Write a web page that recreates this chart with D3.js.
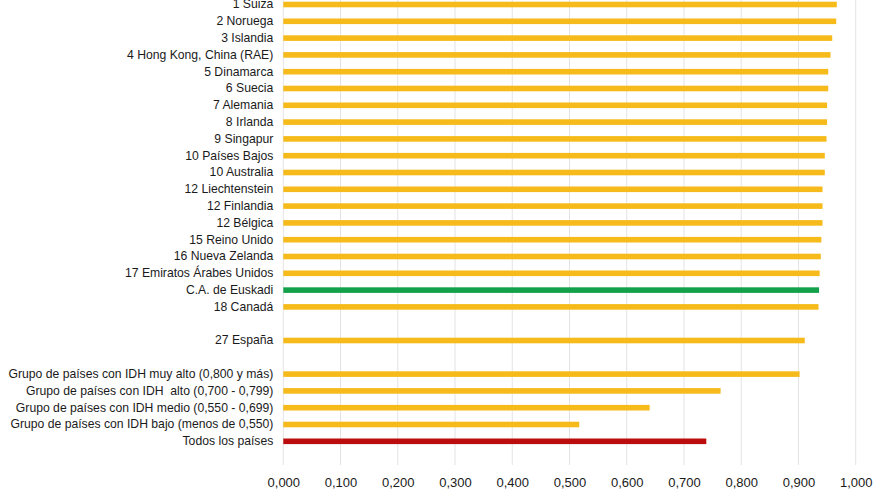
<!DOCTYPE html>
<html>
<head>
<meta charset="utf-8">
<script src="https://cdn.jsdelivr.net/npm/d3@7"></script>
<style>
  body { margin: 0; background: #fff; }
  svg { display: block; font-family: "Liberation Sans", Arial, sans-serif; }
  .y.axis text { white-space: pre; }
</style>
</head>
<body>
<div class="bar-chart-container"></div>
<script>
// categories (blank strings are the empty spacer rows of the original)
const categories = [
    "1 Suiza", "2 Noruega", "3 Islandia", "4 Hong Kong, China (RAE)", "5 Dinamarca",
    "6 Suecia", "7 Alemania", "8 Irlanda", "9 Singapur", "10 Países Bajos",
    "10 Australia", "12 Liechtenstein", "12 Finlandia", "12 Bélgica", "15 Reino Unido",
    "16 Nueva Zelanda", "17 Emiratos Árabes Unidos", "C.A. de Euskadi", "18 Canadá", "",
    "27 España", "",
    "Grupo de países con IDH muy alto (0,800 y más)",
    "Grupo de países con IDH  alto (0,700 - 0,799)",
    "Grupo de países con IDH medio (0,550 - 0,699)",
    "Grupo de países con IDH bajo (menos de 0,550)",
    "Todos los países"
];
const idh = [
    0.967, 0.966, 0.959, 0.956, 0.952,
    0.952, 0.950, 0.950, 0.949, 0.946,
    0.946, 0.942, 0.942, 0.942, 0.940,
    0.939, 0.937, 0.936, 0.935, null,
    0.911, null,
    0.902, 0.764, 0.640, 0.517, 0.739
];
const xTicks = [0, 0.1, 0.2, 0.3, 0.4, 0.5, 0.6, 0.7, 0.8, 0.9, 1.0];

const barChartData = categories.map((c, i) => ({id: i, label: c, val: idh[i]}));

const svg_width = 880;
const svg_height = 495;
const x0 = 283.3, x1 = 855.7;

const esLocale = d3.formatLocale({decimal: ",", thousands: ".", grouping: [3], currency: ["", " €"]});
const fmt = esLocale.format(".3f");

const this_svg = d3.select('.bar-chart-container').append("svg")
    .attr("width", svg_width).attr("height", svg_height);

const xScale = d3.scaleLinear([0, 1], [x0, x1]);
const yScale = d3.scaleBand().domain(barChartData.map(d => d.id))
    .range([-3.9, 449.7])
    .paddingInner(0);

function barColor(d) {
    if (d.label === "C.A. de Euskadi") return "#14a14c";
    if (d.label === "Todos los países") return "#bb0d0d";
    return "#f6ba1b";
}

// gridlines
this_svg.append('g').attr('class', 'grid')
    .selectAll('line').data(xTicks).join('line')
    .attr('x1', d => xScale(d)).attr('x2', d => xScale(d))
    .attr('y1', 0).attr('y2', 465)
    .attr('stroke', '#e3e3e3').attr('stroke-width', 1);

// bars
const barH = 5.6;
this_svg.append('g').attr('class', 'bars')
    .selectAll('.bar')
    .data(barChartData.filter(d => d.val != null))
    .join('rect')
    .attr('class', 'bar')
    .attr('x', xScale(0))
    .attr('y', d => yScale(d.id) + yScale.bandwidth() / 2 - barH / 2)
    .attr('width', d => xScale(d.val) - xScale(0))
    .attr('height', barH)
    .style('fill', barColor);

// y axis labels
const yAxis = d3.axisLeft(yScale).tickSize(0).tickPadding(10)
    .tickFormat(i => categories[i]);
const yAxisDraw = this_svg.append('g')
    .attr('class', 'y axis')
    .attr('transform', `translate(${x0},0)`)
    .call(yAxis);
yAxisDraw.select('.domain').remove();
yAxisDraw.selectAll('text')
    .attr('font-size', 12.2).attr('fill', '#1a1a1a')
    .attr('font-family', '"Liberation Sans", Arial, sans-serif');

// x axis labels (no line, just the numbers)
const xAxis = d3.axisBottom(xScale).tickValues(xTicks).tickFormat(fmt)
    .tickSize(0).tickPadding(0);
const xAxisDraw = this_svg.append('g')
    .attr('class', 'x axis')
    .attr('transform', 'translate(0,477.5)')
    .call(xAxis);
xAxisDraw.select('.domain').remove();
xAxisDraw.selectAll('text')
    .attr('font-size', 13).attr('fill', '#1a1a1a')
    .attr('font-family', '"Liberation Sans", Arial, sans-serif');
</script>
</body>
</html>
